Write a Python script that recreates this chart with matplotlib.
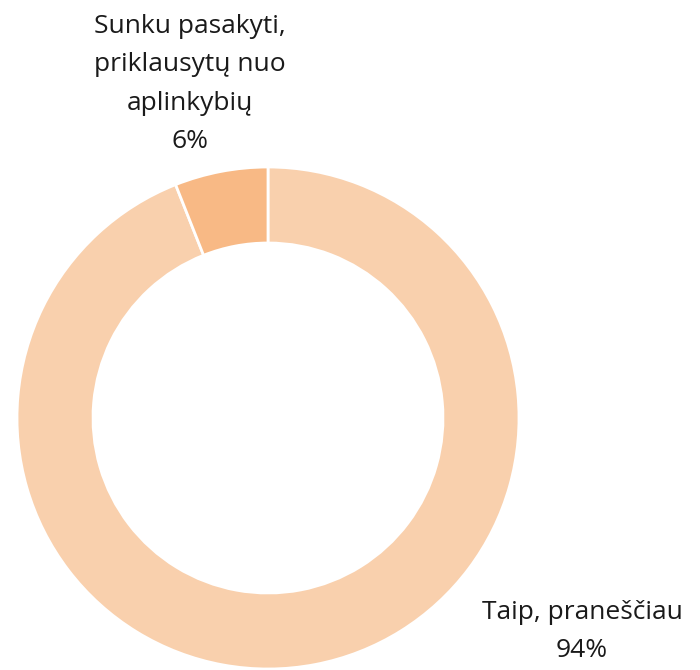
import matplotlib
matplotlib.use("Agg")
import matplotlib.pyplot as plt

labels = ["Taip, praneščiau", "Sunku pasakyti,\npriklausytų nuo\naplinkybių"]
values = [94, 6]
colors = ["#F9D0AD", "#F8B985"]

plt.rcParams['font.family'] = ['Open Sans', 'DejaVu Sans']

W, H = 700, 670
cx, cy, R = 268, 418, 251

fig = plt.figure(figsize=(W / 100, H / 100), dpi=100)
ax = fig.add_axes([0, 0, 1, 1])
ax.pie(values, colors=colors, startangle=90, counterclock=False,
       radius=1, wedgeprops=dict(width=1 - 175 / 251, edgecolor="white", linewidth=2))
ax.set_xlim(-cx / R, (W - cx) / R)
ax.set_ylim(-(H - cy) / R, cy / R)
ax.set_aspect("equal")
ax.axis("off")

def px(x, y):
    return (x - cx) / R, (cy - y) / R

# data labels, placed by baseline of last line
x, y = px(582, 657)
ax.text(x, y, f"{labels[0]}\n{values[0]}%", ha="center", va="baseline",
        fontsize=19, color="#1a1a1a", linespacing=1.7)
x, y = px(190, 148)
ax.text(x, y, f"{labels[1]}\n{values[1]}%", ha="center", va="baseline",
        fontsize=19, color="#1a1a1a", linespacing=1.7)

fig.savefig("out.png", dpi=100)
